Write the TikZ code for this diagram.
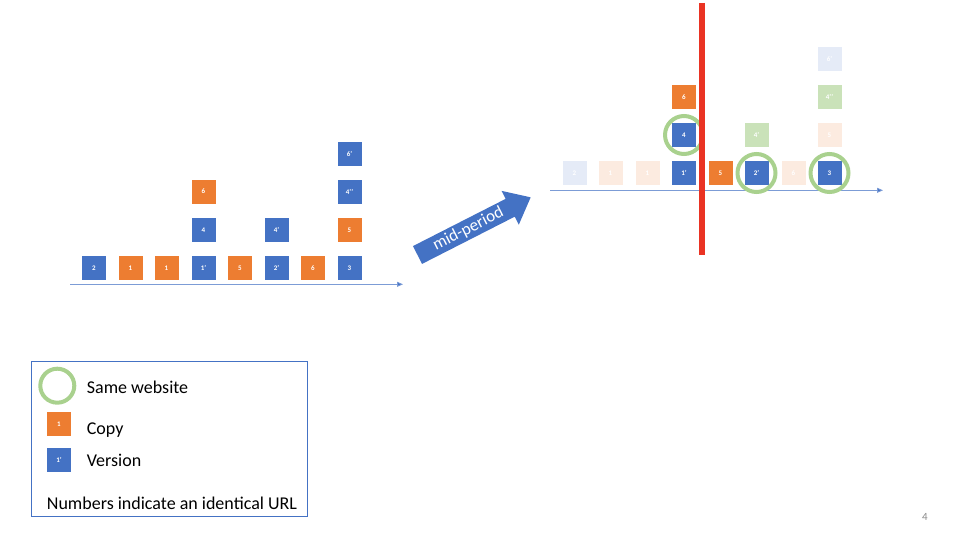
\documentclass[tikz,border=0pt]{standalone}
\usepackage{fontspec}
\setmainfont{Carlito}
\usetikzlibrary{arrows.meta}
\definecolor{oblue}{HTML}{4472C4}
\definecolor{oorange}{HTML}{ED7D31}
\definecolor{ogreen}{HTML}{A9D18E}
\definecolor{ored}{RGB}{234,51,35}
\definecolor{pgray}{HTML}{898989}
\tikzset{
  box/.style={minimum size=25pt, inner sep=0pt, draw=white, line width=0.5pt, text=white, font=\fontsize{7}{8}\selectfont\bfseries},
  bbox/.style={box, fill=oblue},
  obox/.style={box, fill=oorange},
  fbbox/.style={box, fill=oblue!14},
  fobox/.style={box, fill=oorange!15},
  fgbox/.style={box, fill=ogreen!62},
  same/.style={draw=ogreen, line width=4pt},
  axis/.style={draw=oblue!70, line width=0.8pt, -{Triangle[length=6pt,width=5pt,fill=oblue]}},
  legtext/.style={anchor=base west, inner sep=0pt, font=\fontsize{18}{20}\selectfont},
}
\begin{document}
\begin{tikzpicture}[x=1pt,y=-1pt]
\useasboundingbox (0,0) rectangle (960,540);
% left timeline
\coordinate (la) at (70,284.3);
\coordinate (lb) at (403,284.3);
\draw[axis] (la) -- (lb);
\node[bbox] (l1) at (94,268) {2};
\node[obox] (l2) at (130.5,268) {1};
\node[obox] (l3) at (166.5,268) {1};
\node[bbox] (l4) at (203.5,268) {1’};
\node[obox] (l5) at (240,268) {5};
\node[bbox] (l6) at (276.5,268) {2’};
\node[obox] (l7) at (313,268) {6};
\node[bbox] (l8) at (349.5,268) {3};
\node[bbox] (l4b) at (203.5,230) {4};
\node[obox] (l4c) at (203.5,191.5) {6};
\node[bbox] (l6b) at (276.5,230) {4’};
\node[obox] (l8b) at (349.5,230) {5};
\node[bbox] (l8c) at (349.5,191.5) {4’’};
\node[bbox] (l8d) at (349.5,153.5) {6’};
% right timeline
\coordinate (ra) at (550,190.3);
\coordinate (rb) at (883,190.3);
\draw[axis] (ra) -- (rb);
\node[fbbox] (r1) at (574.5,173) {2};
\node[fobox] (r2) at (610.5,173) {1};
\node[fobox] (r3) at (647.5,173) {1};
\node[bbox] (r4) at (684,173) {1’};
\node[obox] (r5) at (720.5,173) {5};
\node[bbox] (r6) at (756.5,173) {2’};
\node[fobox] (r7) at (793.5,173) {6};
\node[bbox] (r8) at (829.5,173) {3};
\node[bbox] (r4b) at (684,135) {4};
\node[obox] (r4c) at (684,97) {6};
\node[fgbox] (r6b) at (756.5,135) {4’};
\node[fobox] (r8b) at (829.5,135) {5};
\node[fgbox] (r8c) at (829.5,97) {4’’};
\node[fbbox] (r8d) at (829.5,59) {6’};
\draw[same] (r4b.center) circle[radius=19];
\draw[same] (r6.center) circle[radius=19];
\draw[same] (r8.center) circle[radius=19];
% red cut line
\coordinate (ct) at (702.3,3);
\coordinate (cb) at (702.3,255);
\draw[ored, line width=6pt] (ct) -- (cb);
% mid-period arrow
\begin{scope}[shift={(417.5,255)}, rotate=27]
\fill[oblue] (0,-10) -- (104,-10) -- (104,-19) -- (127,0) -- (104,19) -- (104,10) -- (0,10) -- cycle;
\node[text=white, rotate=27, inner sep=0pt, font=\fontsize{17}{18}\selectfont] (mp) at (57,0) {mid-period};
\end{scope}
% legend
\node[draw=oblue, line width=0.8pt, minimum width=276pt, minimum height=154.3pt, inner sep=0pt] (leg) at (169.7,438.85) {};
\draw[draw=ogreen, line width=4pt] (57.3,385.7) circle[radius=17];
\node[legtext] (t1) at (86.7,393.3) {Same website};
\node[obox] (lc) at (59,424) {1};
\node[legtext] (t2) at (86.7,434) {Copy};
\node[bbox] (lv) at (59,459.5) {1’};
\node[legtext] (t3) at (86.7,466) {Version};
\node[legtext] (t4) at (46.7,509.3) {Numbers indicate an identical URL};
% page number
\node[text=pgray, font=\fontsize{11}{12}\selectfont, inner sep=0pt] (pn) at (925,517) {4};
\end{tikzpicture}
\end{document}
